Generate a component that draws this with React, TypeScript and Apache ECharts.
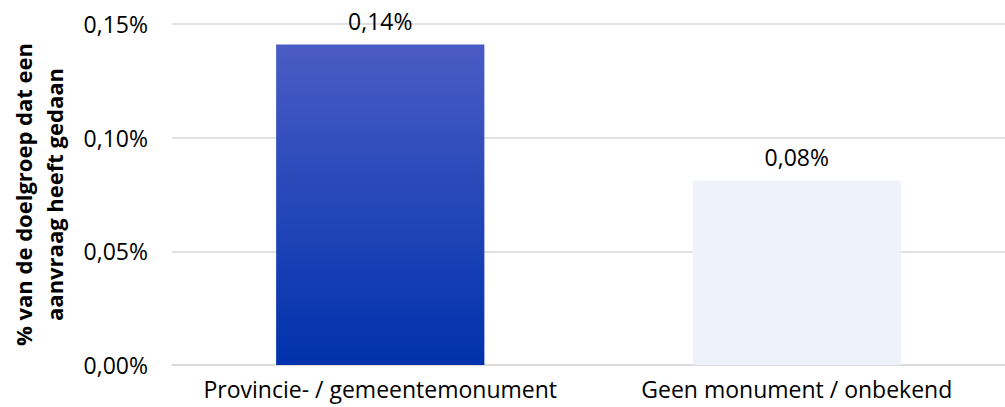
import React, { useEffect, useRef } from "react";
import * as echarts from "echarts";

const categories = ["Provincie- / gemeentemonument", "Geen monument / onbekend"];
const values = [0.141, 0.081];
const valueLabels = ["0,14%", "0,08%"];
const yTicks = [0, 0.05, 0.1, 0.15];

const FONT = "Open Sans";

export default function App() {
  const ref = useRef<HTMLDivElement>(null);
  useEffect(() => {
    const chart = echarts.init(ref.current!, null, { renderer: "svg" });
    const fmt = (v: number) => v.toFixed(2).replace(".", ",") + "%";
    chart.setOption({
      animation: false,
      grid: { left: 172, right: 0, top: 24, bottom: 42, outerBoundsMode: "none", containLabel: false },
      xAxis: {
        type: "category",
        data: categories,
        axisTick: { show: false },
        axisLine: { lineStyle: { color: "#d9d9d9", width: 1.5 } },
        axisLabel: { color: "#000", fontFamily: FONT, fontSize: 23, margin: 12, interval: 0 },
      },
      yAxis: {
        type: "value",
        min: 0,
        max: yTicks[yTicks.length - 1],
        interval: 0.05,
        name: "% van de doelgroep dat een\naanvraag heeft gedaan",
        nameLocation: "middle",
        nameRotate: 90,
        nameGap: 103,
        nameTextStyle: { color: "#000", fontFamily: FONT, fontSize: 22, fontWeight: "bold", lineHeight: 31 },
        axisLabel: { color: "#000", fontFamily: FONT, fontSize: 23, margin: 24, formatter: fmt },
        splitLine: { lineStyle: { color: "#d9d9d9", width: 1.5 } },
      },
      series: [
        {
          type: "bar",
          barWidth: "50%",
          data: values.map((v, i) => ({
            value: v,
            itemStyle: {
              color:
                i === 0
                  ? new echarts.graphic.LinearGradient(0, 0, 0, 1, [
                      { offset: 0, color: "#4a5cc4" },
                      { offset: 1, color: "#0032ad" },
                    ])
                  : "#eef2fb",
            },
          })),
          label: {
            show: true,
            position: "top",
            distance: 12,
            color: "#000",
            fontFamily: FONT,
            fontSize: 23,
            formatter: (p: any) => valueLabels[p.dataIndex],
          },
        },
      ],
    });
    return () => chart.dispose();
  }, []);
  return (
    <div
      ref={ref}
      style={{ position: "absolute", left: 0, top: 0, width: 1005, height: 407 }}
    />
  );
}
